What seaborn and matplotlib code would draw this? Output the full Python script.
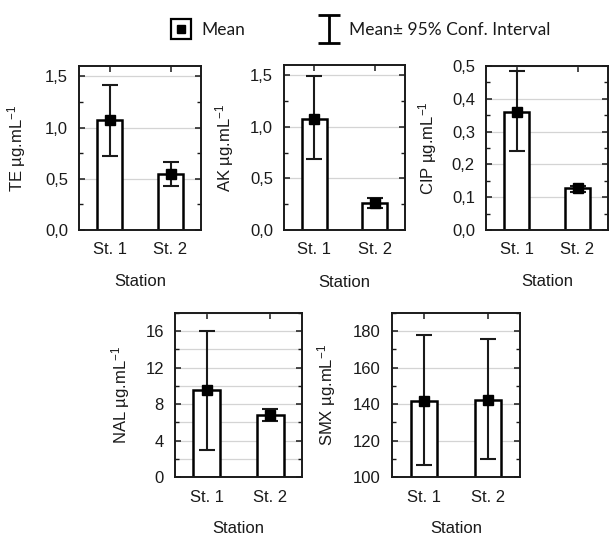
import numpy as np
import pandas as pd
import seaborn as sns
import matplotlib.pyplot as plt
from matplotlib.lines import Line2D
from matplotlib.path import Path
from matplotlib.ticker import MultipleLocator, FuncFormatter
from matplotlib.legend_handler import HandlerTuple

# data
stations = ['St. 1', 'St. 2']

te_mean = [1.07, 0.55]
te_lo = [0.72, 0.43]
te_hi = [1.41, 0.66]

ak_mean = [1.08, 0.265]
ak_lo = [0.69, 0.21]
ak_hi = [1.49, 0.31]

cip_mean = [0.36, 0.128]
cip_lo = [0.24, 0.117]
cip_hi = [0.485, 0.133]

nal_mean = [9.5, 6.8]
nal_lo = [3.0, 6.1]
nal_hi = [16.0, 7.5]

smx_mean = [141.5, 142.5]
smx_lo = [106.4, 110.1]
smx_hi = [178.0, 175.8]

sns.set_theme(style='white')
plt.rcParams['font.family'] = 'Liberation Sans'
plt.rcParams['mathtext.fontset'] = 'custom'
plt.rcParams['mathtext.rm'] = 'Liberation Sans'
plt.rcParams['mathtext.it'] = 'Liberation Sans:italic'
plt.rcParams['text.color'] = '#1a1a1a'
plt.rcParams['axes.labelcolor'] = '#1a1a1a'

W, H = 612, 535
fig = plt.figure(figsize=(W / 100, H / 100), dpi=100)

# panel boxes in pixels: left, top, right, bottom
panels = [
    ('TE', te_mean, te_lo, te_hi, (79, 66, 201, 230), (0, 1.6), 0.5, 0.25, 1, -0.418),
    ('AK', ak_mean, ak_lo, ak_hi, (284, 65, 405, 230), (0, 1.6), 0.5, 0.25, 1, -0.397),
    ('CIP', cip_mean, cip_lo, cip_hi, (486, 66, 608, 230), (0, 0.5), 0.1, 0.05, 1, -0.385),
    ('NAL', nal_mean, nal_lo, nal_hi, (175, 313, 302, 477), (0, 18), 4, 2, 0, -0.339),
    ('SMX', smx_mean, smx_lo, smx_hi, (392, 313, 520, 477), (100, 190), 20, 10, 0, -0.42),
]

for name, mean, lo, hi, box, ylim, major, minor, dec, ylx in panels:
    l, t, r, b = box
    ax = fig.add_axes([l / W, 1 - b / H, (r - l) / W, (b - t) / H])
    df = pd.DataFrame({'Station': stations, 'value': mean})
    sns.barplot(data=df, x='Station', y='value', ax=ax, color='white',
                edgecolor='black', linewidth=1.8, width=0.42, errorbar=None,
                zorder=2)
    m = np.array(mean)
    yerr = [m - np.array(lo), np.array(hi) - m]
    ax.errorbar(np.arange(len(stations)), m, yerr=yerr, fmt='none',
                ecolor='#1a1a1a', elinewidth=1.5, capsize=6, capthick=1.5, zorder=3)
    ax.plot(np.arange(len(stations)), m, 's', ms=7, color='black', zorder=4)

    ax.set_xlim(-0.5, 1.5)
    ax.set_ylim(*ylim)
    ax.yaxis.set_major_locator(MultipleLocator(major))
    ax.yaxis.set_minor_locator(MultipleLocator(minor))
    if dec:
        ax.yaxis.set_major_formatter(FuncFormatter(lambda v, p: f'{v:.1f}'.replace('.', ',')))
    else:
        ax.yaxis.set_major_formatter(FuncFormatter(lambda v, p: f'{v:.0f}'))
    ax.grid(axis='y', which='major', color='#d4d4d4', lw=0.9, zorder=0)
    if name == 'NAL':
        ax.grid(axis='y', which='minor', color='#d4d4d4', lw=0.9, zorder=0)
    ax.set_axisbelow(True)

    ax.tick_params(axis='both', which='both', direction='in', colors='#1a1a1a',
                   labelsize=12, top=True, right=True, left=True, bottom=True)
    ax.tick_params(axis='both', which='major', length=4, width=1.1)
    ax.tick_params(axis='y', which='minor', length=3, width=1.0)
    ax.tick_params(axis='y', pad=8)
    ax.tick_params(axis='x', pad=9)
    for s in ax.spines.values():
        s.set_color('#1a1a1a')
        s.set_linewidth(1.4)

    ax.set_xlabel('Station', fontsize=12)
    ax.xaxis.set_label_coords(0.5, -0.27)
    ax.set_ylabel(name + ' µg.mL$^{-1}$', fontsize=12)
    ax.yaxis.set_label_coords(ylx, 0.5)

# legend at top
ibeam = Path([(-0.4, -0.5), (0.4, -0.5), (0, -0.5), (0, 0.5), (-0.4, 0.5), (0.4, 0.5)],
             [Path.MOVETO, Path.LINETO, Path.MOVETO, Path.LINETO, Path.MOVETO, Path.LINETO])
h_mean = (Line2D([], [], marker='s', ms=15, mfc='white', mec='black', mew=1.6, ls=''),
          Line2D([], [], marker='s', ms=6, color='black', ls=''))
h_ci = Line2D([], [], marker=ibeam, ms=20, mew=2.0, color='black', fillstyle='none', ls='')
fig.legend([h_mean, h_ci], ['Mean', 'Mean± 95% Conf. Interval'],
           handler_map={tuple: HandlerTuple(ndivide=1, pad=0)},
           loc='center', bbox_to_anchor=(360 / W, 1 - 30 / H), ncol=2, frameon=False,
           prop={'family': 'Lato', 'size': 12.5}, columnspacing=4.2,
           handletextpad=0.5, handlelength=1.3)

fig.savefig('out.png', dpi=100)
